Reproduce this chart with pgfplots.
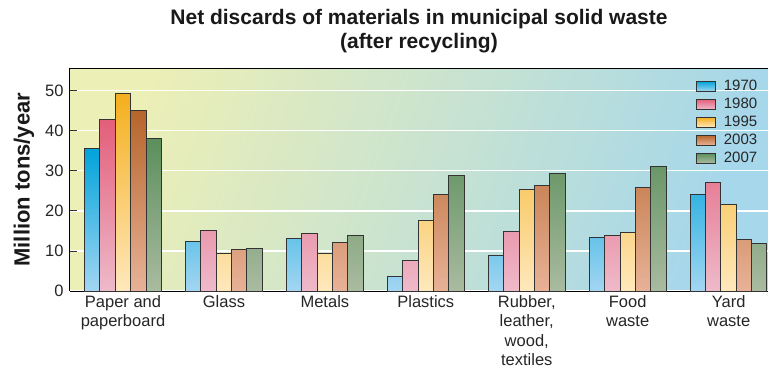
\documentclass[border=0pt]{standalone}
\usepackage{fontspec}
\setmainfont{Liberation Sans}
\usepackage{pgfplots}
\pgfplotsset{compat=1.18}
\definecolor{bgL}{HTML}{ECEFB6}
\definecolor{bgR}{HTML}{A6D7EA}
\definecolor{aT}{HTML}{00A3DA}\definecolor{aB}{HTML}{A3D6F2}
\definecolor{bT}{HTML}{E35E7A}\definecolor{bB}{HTML}{EEBACA}
\definecolor{cT}{HTML}{F4AF1E}\definecolor{cB}{HTML}{FEE8BC}
\definecolor{dT}{HTML}{B5652A}\definecolor{dB}{HTML}{E8B298}
\definecolor{eT}{HTML}{5B8F5C}\definecolor{eB}{HTML}{AABBA0}
\definecolor{edge}{HTML}{333333}
\begin{document}
\begin{tikzpicture}
\useasboundingbox (-70pt,-77pt) rectangle (698pt,291pt);
\begin{axis}[
  at={(0pt,0pt)}, anchor=south west,
  scale only axis, width=698pt, height=222.7pt,
  xmin=-0.525, xmax=6.39, ymin=0, ymax=55.6,
  ybar=0pt, bar width=0.152,
  axis background/.style={shade, left color=bgL, right color=bgR, shading angle=70},
  axis x line*=bottom, axis y line*=left,
  axis line style={-, line width=1pt, black},
  xtick={0,1,2,3,4,5,6},
  xticklabels={{Paper and\\paperboard},Glass,Metals,Plastics,{Rubber,\\leather,\\wood,\\textiles},{Food\\waste},{Yard\\waste}},
  xticklabel style={align=center, font=\fontsize{16.5}{19.5}\selectfont, text=black!85, yshift=-1pt},
  x tick style={draw=none},
  ytick={0,10,20,30,40,50},
  /pgf/number format/assume math mode=true,
  yticklabel style={font=\fontsize{16.5}{18}\selectfont, text=black!85, xshift=-3pt},
  tick align=inside, major tick length=7pt,
  y tick style={black!80, line width=0.8pt},
  ymajorgrids, grid style={white, line width=1.3pt},
  ylabel={Million tons/year},
  ylabel style={at={(axis description cs:-0.066,0.5)}, rotate=0, anchor=center, font=\fontsize{22}{24}\selectfont\bfseries, text=black!90},
  title={Net discards of materials in municipal solid waste\\(after recycling)},
  title style={align=center, font=\fontsize{21}{23.5}\selectfont\bfseries, text=black!90, at={(rel axis cs:0.5,1)}, anchor=south, yshift=6pt},
  legend style={at={(rel axis cs:0.992,0.965)}, anchor=north east, draw=none, fill=none,
    font=\fontsize{15}{17}\selectfont, text=black!85, row sep=2pt},
  legend image code/.code={\draw[#1, line width=0.8pt] (0pt,-5pt) rectangle (19pt,5pt); \path (25pt,0pt);},
  legend cell align=left,
  every axis plot/.append style={draw=edge, line width=1pt},
  clip=false,
]
\addplot[top color=aT, bottom color=aB] coordinates {(0,35.7) (1,12.4) (2,13.1) (3,3.7) (4,8.9) (5,13.4) (6,24.1)};
\addplot[top color=bT, bottom color=bB] coordinates {(0,42.8) (1,15.2) (2,14.4) (3,7.6) (4,14.8) (5,13.9) (6,27.2)};
\addplot[top color=cT, bottom color=cB] coordinates {(0,49.2) (1,9.4) (2,9.4) (3,17.7) (4,25.4) (5,14.6) (6,21.5)};
\addplot[top color=dT, bottom color=dB] coordinates {(0,45.1) (1,10.4) (2,12.2) (3,24.0) (4,26.4) (5,25.9) (6,12.9)};
\addplot[top color=eT, bottom color=eB] coordinates {(0,38.0) (1,10.5) (2,13.8) (3,28.8) (4,29.4) (5,31.0) (6,11.9)};
\legend{1970,1980,1995,2003,2007}
\draw[black, line width=1pt] (rel axis cs:0,1) -- (rel axis cs:1,1);
\end{axis}
\end{tikzpicture}
\end{document}
